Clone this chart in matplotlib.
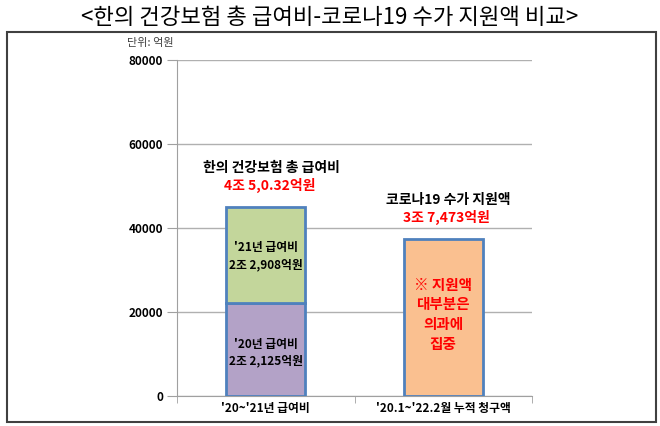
import matplotlib
matplotlib.use('Agg')
import matplotlib.pyplot as plt
from matplotlib.patches import Rectangle

plt.rcParams['font.family'] = ['Noto Sans CJK KR', 'DejaVu Sans']

# data (억원)
categories = ["'20~'21년 급여비", "'20.1~'22.2월 누적 청구액"]
val_2020 = [22125, 0]
val_2021 = [22908, 0]
covid = [0, 37473]
inner_2020 = "'20년 급여비\n2조 2,125억원"
inner_2021 = "'21년 급여비\n2조 2,908억원"
inner_covid = "※ 지원액\n대부분은\n의과에\n집중"
head_titles = ["한의 건강보험 총 급여비", "코로나19 수가 지원액"]
head_values = ["4조 5,0.32억원", "3조 7,473억원"]
yticks = [0, 20000, 40000, 60000, 80000]

fig = plt.figure(figsize=(6.6, 4.26), dpi=100)
fig.text(0.5, 0.958, '<한의 건강보험 총 급여비-코로나19 수가 지원액 비교>',
         ha='center', va='center', fontsize=16)
fig.patches.append(Rectangle((7 / 660, 4 / 426), 649 / 660, 390 / 426,
                             transform=fig.transFigure, fill=False,
                             edgecolor='#404040', linewidth=1.5))

ax = fig.add_axes([177 / 660, 30 / 426, 355 / 660, 336 / 426])
x = [0, 1]
w = 0.445
edge = '#4F81BD'

ax.bar(x[0], val_2020[0], width=w, color='#B3A2C7', edgecolor=edge, linewidth=2, zorder=3)
ax.bar(x[0], val_2021[0], bottom=val_2020[0], width=w, color='#C3D69B',
       edgecolor=edge, linewidth=2, zorder=3)
ax.bar(x[1], covid[1], width=w, color='#FAC090', edgecolor=edge, linewidth=2, zorder=3)

ax.text(x[0], val_2020[0] / 2 - 800, inner_2020, ha='center', va='center',
        fontsize=8.5, fontweight='bold', linespacing=1.35, zorder=4)
ax.text(x[0], val_2020[0] + val_2021[0] / 2 - 300, inner_2021, ha='center', va='center',
        fontsize=8.5, fontweight='bold', linespacing=1.35, zorder=4)
ax.text(x[1], covid[1] / 2 + 700, inner_covid, ha='center', va='center',
        fontsize=10.5, fontweight='bold', color='#FF0000', linespacing=1.3, zorder=4)

tops = [val_2020[0] + val_2021[0], covid[1]]
for i in range(2):
    ax.text(x[i] + 0.03, tops[i] + 9200, head_titles[i],
            ha='center', va='center', fontsize=10, fontweight='bold')
    ax.text(x[i] + 0.02, tops[i] + 5000, head_values[i],
            ha='center', va='center', fontsize=10, fontweight='bold', color='#FF0000')

ax.set_xlim(-0.5, 1.5)
ax.set_ylim(0, 80000)
ax.set_yticks(yticks)
ax.set_yticklabels([str(v) for v in yticks], fontsize=8.5, fontweight='bold')
ax.set_xticks(x)
ax.set_xticklabels(categories, fontsize=8.5, fontweight='bold')
ax.tick_params(axis='x', length=0, pad=4)
ax.set_xticks([-0.5, 0.5, 1.5], minor=True)
ax.tick_params(axis='x', which='minor', length=5, color='#A0A0A0')
ax.tick_params(axis='y', length=7, color='#A0A0A0', pad=3)
ax.grid(axis='y', color='#B0B0B0', linewidth=1, zorder=0)
for s in ['top', 'right']:
    ax.spines[s].set_visible(False)
for s in ['left', 'bottom']:
    ax.spines[s].set_color('#A0A0A0')

fig.text(150 / 660, 1 - 43 / 426, '단위: 억원', ha='center', va='center',
         fontsize=8, color='#404040')

fig.savefig('out.png', dpi=100)
